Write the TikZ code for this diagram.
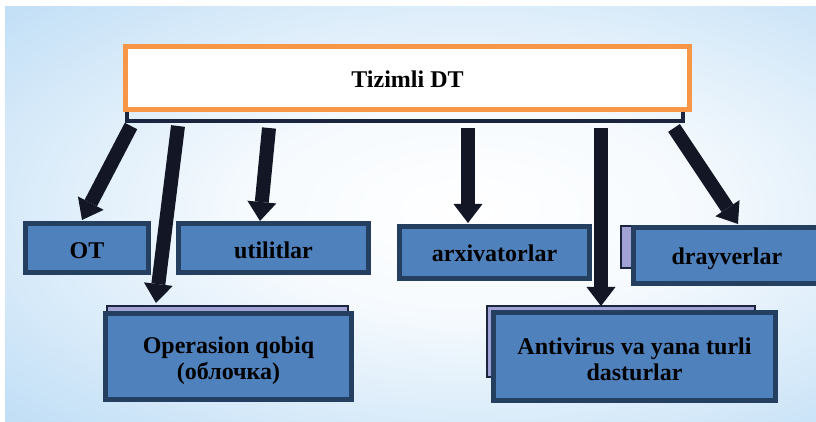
\documentclass[tikz,border=0pt]{standalone}
\usepackage{fontspec}
\setmainfont{Liberation Serif}
\usetikzlibrary{arrows.meta}
\definecolor{bgblue}{HTML}{C2DFF6}
\definecolor{bgdeep}{HTML}{A6D0F2}
\definecolor{boxfill}{HTML}{4F81BD}
\definecolor{boxline}{HTML}{243F60}
\definecolor{backfill}{HTML}{A0A2D4}
\definecolor{orangeline}{HTML}{F79646}
\definecolor{arrowcol}{HTML}{121625}
\definecolor{shadowcol}{HTML}{1C2540}
\pgfdeclareradialshading{bgshade}{\pgfpoint{0bp}{0bp}}{color(0bp)=(white); color(12bp)=(white!85!bgblue); color(34bp)=(bgblue); color(50bp)=(bgdeep)}
\begin{document}
\begin{tikzpicture}[x=0.5pt,y=-0.5pt,
  lbl/.style={font=\fontsize{12}{13.2}\selectfont\bfseries, text=black, align=center, inner sep=0pt},
  topbox/.style={fill=white, draw=orangeline, line width=2.5pt, minimum width=282pt, minimum height=31.5pt, inner sep=0pt},
  bluebox/.style={fill=boxfill, draw=boxline, line width=2.5pt, inner sep=0pt},
  backrect/.style={fill=backfill, draw=shadowcol, line width=0.7pt},
  arr/.style={draw=arrowcol, line width=7pt, -{Triangle[width=14.5pt,length=9.5pt,line width=0pt]}}
]
\useasboundingbox (0,0) rectangle (816,422);
\clip (0,0) rectangle (816,422);
\fill[white] (0,0) rectangle (816,422);
\begin{scope}
\clip (5,7) rectangle (816,422);
\shade[shading=bgshade, shading angle=0] (5,-10) rectangle (935,430);
\end{scope}
% shadow outline below top box
\draw[shadowcol, line width=2pt] (127,52) rectangle (683,121);
\node[topbox] (top) at (407.5,78) {};
\node[lbl, anchor=base] (toptext) at ([yshift=-5pt]top.center) {Tizimli DT};
% level 1 boxes
\node[bluebox, minimum width=61.5pt, minimum height=24.5pt] (ot) at (87,248) {};
\node[lbl, anchor=base] (ottext) at ([yshift=-5.5pt]ot.center) {OT};
\node[bluebox, minimum width=95pt, minimum height=24.5pt] (util) at (273.5,248) {};
\node[lbl, anchor=base] (utiltext) at ([yshift=-5.5pt]util.center) {utilitlar};
\node[bluebox, minimum width=95pt, minimum height=26pt] (arx) at (494.5,252.5) {};
\node[lbl, anchor=base] (arxtext) at ([yshift=-4.6pt]arx.center) {arxivatorlar};
\draw[backrect] (621,226) rectangle (760,268);
\node[bluebox, minimum width=93pt, minimum height=28pt] (dray) at (726.5,255.5) {};
\node[lbl, anchor=base] (draytext) at ([xshift=0.2pt,yshift=-4.4pt]dray.center) {drayverlar};
% level 2 boxes
\draw[backrect] (107,306) rectangle (348,340);
\node[bluebox, minimum width=123pt, minimum height=43pt] (oper) at (228.5,356.5) {};
\node[lbl] (opertext) at ([yshift=-2pt]oper.center) {Operasion qobiq\\(облочка)};
\draw[backrect] (487,306) rectangle (755,377);
\node[bluebox, minimum width=141pt, minimum height=44pt] (anti) at (634.5,356.5) {};
\node[lbl] (antitext) at ([yshift=-1.5pt]anti.center) {Antivirus va yana turli\\dasturlar};
% arrow anchors
\coordinate (s1) at (131,126); \coordinate (t1) at (82,220);
\coordinate (s2) at (178,126); \coordinate (t2) at (156,303);
\coordinate (s3) at (269,128); \coordinate (t3) at (260,221);
\coordinate (s4) at (468,128); \coordinate (t4) at (468,223);
\coordinate (s5) at (601,128); \coordinate (t5) at (601,306);
\coordinate (s6) at (674,128); \coordinate (t6) at (738,224);
\draw[arr] (s1) -- (t1);
\draw[arr] (s2) -- (t2);
\draw[arr] (s3) -- (t3);
\draw[arr] (s4) -- (t4);
\draw[arr] (s5) -- (t5);
\draw[arr] (s6) -- (t6);
\end{tikzpicture}
\end{document}
